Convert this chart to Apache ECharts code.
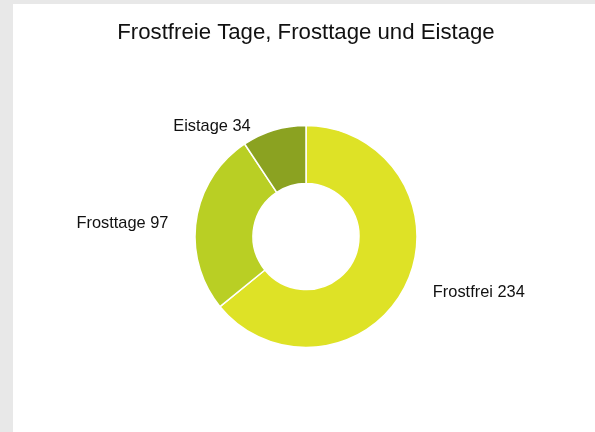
<!DOCTYPE html>
<html><head><meta charset="utf-8">
<script src="https://cdn.jsdelivr.net/npm/echarts@6/dist/echarts.min.js"></script>
<style>
html,body{margin:0;padding:0;background:#e8e8e8;width:595px;height:432px;overflow:hidden;}
#c{position:absolute;left:13px;top:4px;width:582px;height:428px;background:#fff;}
</style></head><body>
<div id="c"></div>
<script>
const categories = ['Frostfrei', 'Frosttage', 'Eistage'];
const values = [234, 97, 34];
const colors = ['#dee226', '#b9cf24', '#8ba221'];
const titleText = 'Frostfreie Tage, Frosttage und Eistage';
const labelShiftX = [-4, 4, -2];
const labelShiftY = [2, 6, 11];

const chart = echarts.init(document.getElementById('c'), null, {renderer: 'canvas'});
chart.setOption({
  animation: false,
  title: {
    text: titleText,
    left: 288,
    textAlign: 'center',
    top: 13,
    textStyle: {fontFamily: 'Liberation Sans', fontSize: 22.2, fontWeight: 'normal', color: '#111'}
  },
  series: [{
    type: 'pie',
    center: [293, 232.5],
    radius: [53, 111],
    startAngle: 90,
    clockwise: true,
    avoidLabelOverlap: false,
    data: categories.map((c, i) => ({name: c, value: values[i], itemStyle: {color: colors[i]}})),
    itemStyle: {borderColor: '#fff', borderWidth: 1.5},
    label: {
      show: true,
      position: 'outside',
      formatter: p => p.name + ' ' + p.value,
      fontFamily: 'Liberation Sans',
      fontSize: 16.4,
      color: '#111'
    },
    labelLine: {show: false, length: 15, length2: 12},
    labelLayout: p => ({dx: labelShiftX[p.dataIndex], dy: labelShiftY[p.dataIndex]}),
    emphasis: {disabled: true}
  }]
});
</script>
</body></html>
